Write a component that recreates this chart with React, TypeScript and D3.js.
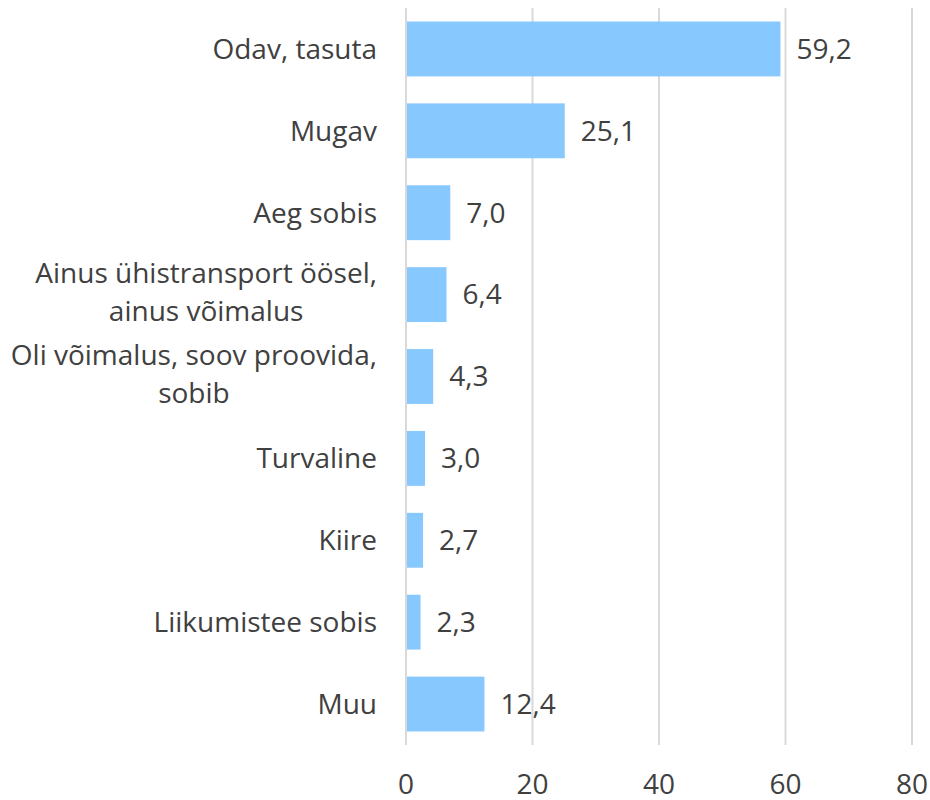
import React from "react";
import * as d3 from "d3";

const categories = [
  ["Odav, tasuta"],
  ["Mugav"],
  ["Aeg sobis"],
  ["Ainus ühistransport öösel,", "ainus võimalus"],
  ["Oli võimalus, soov proovida,", "sobib"],
  ["Turvaline"],
  ["Kiire"],
  ["Liikumistee sobis"],
  ["Muu"],
];
const values = [59.2, 25.1, 7.0, 6.4, 4.3, 3.0, 2.7, 2.3, 12.4];
const ticks = [0, 20, 40, 60, 80];

const W = 930;
const H = 800;
const FONT = "'Open Sans', sans-serif";
const FS = 28;
const TEXT = "#404040";

function measure(s: string): number {
  const c = document.createElement("canvas").getContext("2d");
  if (!c) return s.length * FS * 0.5;
  c.font = `${FS}px 'Open Sans'`;
  return c.measureText(s).width;
}

export default function App() {
  const x = d3.scaleLinear().domain([0, 80]).range([406, 912]);
  const ids = categories.map((_, i) => String(i));
  const y = d3.scaleBand().domain(ids).range([8, 745]).paddingInner(0.33).paddingOuter(0.165);
  const fmt = (v: number) => v.toFixed(1).replace(".", ",");
  const labelRight = 377;
  return (
    <svg width={W} height={H} style={{ position: "absolute", left: 0, top: 0, background: "#fff" }}>
      {ticks.map((t) => (
        <line key={t} x1={x(t)} x2={x(t)} y1={8} y2={745} stroke="#d9d9d9" strokeWidth={2} />
      ))}
      {values.map((v, i) => {
        const yy = y(String(i))!;
        return (
          <g key={i}>
            <rect x={x(0) + 1} y={yy} width={x(v) - x(0) - 1} height={y.bandwidth()} fill="#87C8FF" />
            <text
              x={x(v) + 16}
              y={yy + y.bandwidth() / 2}
              dy="0.35em"
              fontFamily={FONT}
              fontSize={FS}
              fill={TEXT}
            >
              {fmt(v)}
            </text>
          </g>
        );
      })}
      {categories.map((lines, i) => {
        const cy = y(String(i))! + y.bandwidth() / 2;
        const lh = 38;
        const multi = lines.length > 1;
        const widest = multi ? Math.max(...lines.map(measure)) : 0;
        return (
          <text key={i} fontFamily={FONT} fontSize={FS} fill={TEXT} textAnchor={multi ? "middle" : "end"}>
            {lines.map((l, j) => (
              <tspan
                key={j}
                x={multi ? labelRight - widest / 2 : labelRight}
                y={cy + (j - (lines.length - 1) / 2) * lh - (multi ? 2 : 0)}
                dy="0.35em"
              >
                {l}
              </tspan>
            ))}
          </text>
        );
      })}
      {ticks.map((t) => (
        <text key={t} x={x(t)} y={784} dy="0.35em" textAnchor="middle" fontFamily={FONT} fontSize={FS} fill={TEXT}>
          {t}
        </text>
      ))}
    </svg>
  );
}
